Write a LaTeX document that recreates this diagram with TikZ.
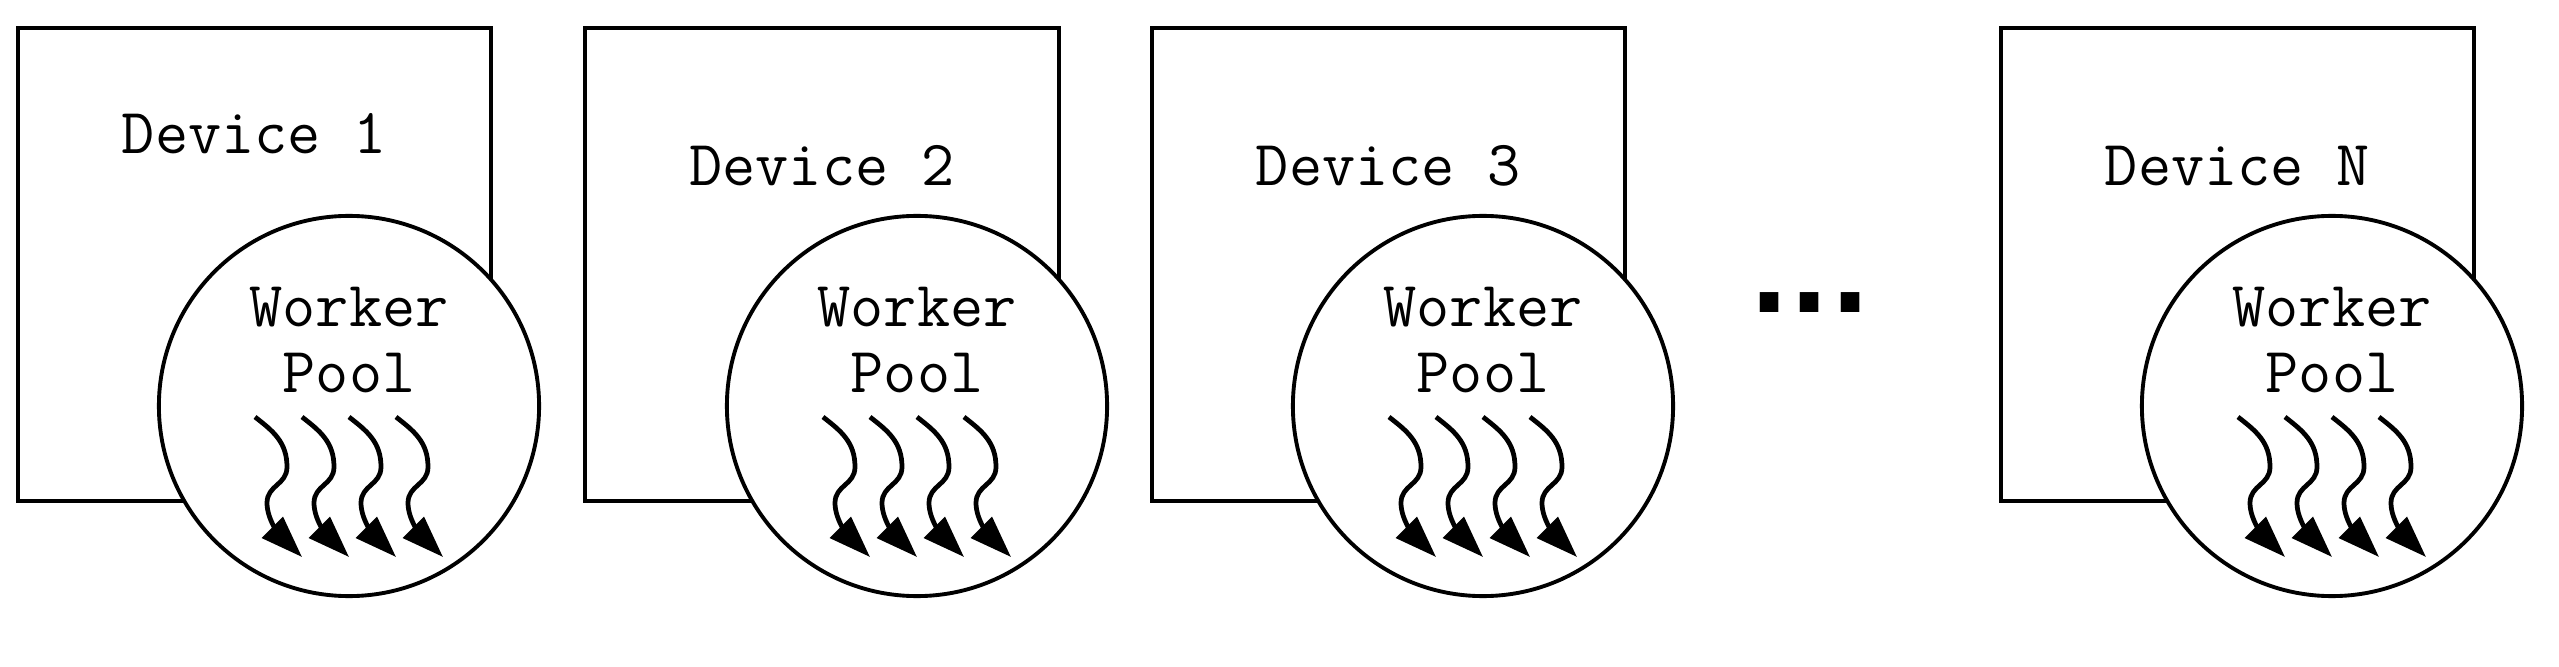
\documentclass[tikz,border=0pt]{standalone}
\usepackage{fontspec}
\newfontfamily\dotfont{DejaVu Sans}
\usetikzlibrary{arrows.meta}

\begin{document}
\begin{tikzpicture}[
    x=0.01cm, y=-0.01cm,
    every node/.style={font=\ttfamily\fontsize{18.3}{19}\selectfont},
    device/.style={draw, line width=1.1pt, minimum size=4.73cm, inner sep=0pt},
    pool/.style={draw, circle, line width=1.1pt, fill=white, minimum size=3.8cm, inner sep=0pt},
    poollabel/.style={align=center, inner sep=0pt},
    worker/.style={-{Triangle[length=0.42cm, width=0.29cm]}, line width=1.35pt},
    dots/.style={font=\dotfont\bfseries\fontsize{30}{32}\selectfont, inner sep=0pt}
]
\useasboundingbox (0,0) rectangle (2559,667);
\node[device] (dev1) at (254.5,264.5) {};
\node[device] (dev2) at (822,264.5) {};
\node[device] (dev3) at (1388.5,264.5) {};
\node[device] (devN) at (2237.5,264.5) {};
\node (lab1) at (254.5,134) {Device 1};
\node (lab2) at (822,166) {Device 2};
\node (lab3) at (1388.5,166) {Device 3};
\node (labN) at (2237.5,166) {Device N};
\node[pool] (pool1) at (349,406) {};
\node[pool] (pool2) at (917,406) {};
\node[pool] (pool3) at (1483,406) {};
\node[pool] (poolN) at (2332,406) {};
\node[poollabel] (wp1) at (349,340) {Worker\\Pool};
\node[poollabel] (wp2) at (917,340) {Worker\\Pool};
\node[poollabel] (wp3) at (1483,340) {Worker\\Pool};
\node[poollabel] (wpN) at (2332,340) {Worker\\Pool};
\node[dots] (more) at (1810,303) {...};
% worker threads
\foreach \p in {pool1,pool2,pool3,poolN}
  \foreach \dx in {-94,-47,0,47}
    \draw[worker] ([shift={(\dx,11)}]\p.center) .. controls +(18,14) and +(0,-25) .. ++(32,50)
      .. controls +(0,18) and +(0,-18) .. ++(-20,36)
      .. controls +(0,18) and +(-20,-20) .. ++(35,54);
\end{tikzpicture}
\end{document}
